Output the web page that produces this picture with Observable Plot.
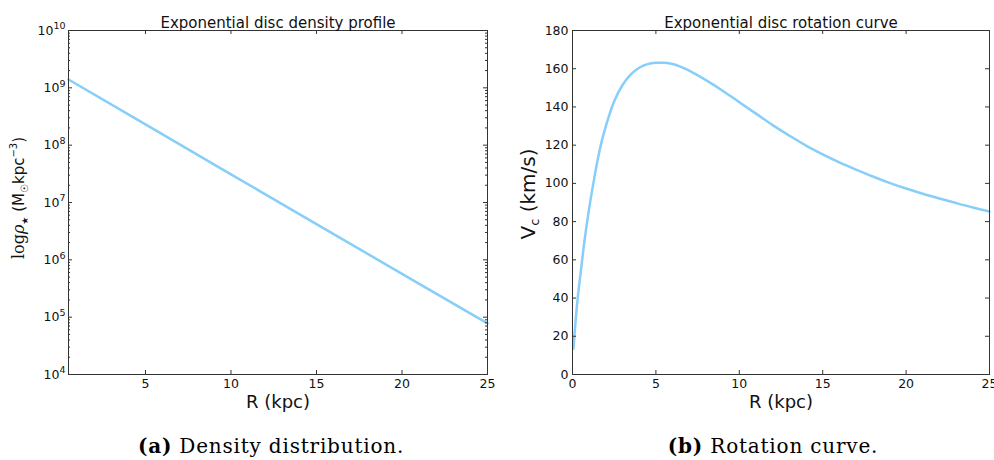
<!DOCTYPE html>
<html>
<head>
<meta charset="utf-8">
<script src="https://cdn.jsdelivr.net/npm/d3@7"></script>
<script src="https://cdn.jsdelivr.net/npm/@observablehq/plot@0.6"></script>
<style>
  body { margin: 0; background: #fff; }
  #wrap { position: relative; width: 994px; height: 460px; overflow: hidden; background: #fff; }
  .panel { position: absolute; top: 0; }
  .cap { position: absolute; top: 434px; font-family: "DejaVu Serif"; font-size: 20px; letter-spacing: 0.8px; white-space: nowrap; transform: translateX(-50%); color: #000; }
  .cap b { font-weight: bold; }
</style>
</head>
<body>
<div id="wrap">
  <div id="left" class="panel" style="left:0px"></div>
  <div id="right" class="panel" style="left:497px"></div>
  <div class="cap" style="left:271px"><b>(a)</b> Density distribution.</div>
  <div class="cap" style="left:773px"><b>(b)</b> Rotation curve.</div>
</div>
<script>
// ---------- data ----------
const densityR   = [0.5, 5, 10, 15, 20, 25];
const densityRho = [1.4e9, 2.3e8, 3.1e7, 4.2e6, 5.7e5, 7.8e4];

const rotR = [0.06, 0.15, 0.3, 0.5, 0.75, 1.0, 1.25, 1.5, 1.75, 2.0, 2.5, 3.0, 3.5, 4.0, 4.5, 5.0, 5.5, 6.0, 6.5, 7.0, 8.0, 9.0, 10.0, 11.0, 12.0, 13.0, 14.0, 15.0, 16.0, 17.0, 18.0, 19.0, 20.0, 21.0, 22.0, 23.0, 24.0, 25.0];
const rotV = [13.5, 24, 39, 54, 72, 87, 100, 112, 122, 130, 143, 151.5, 157, 160.5, 162.4, 163.1, 163.1, 162.5, 161, 159, 154, 148.5, 142.5, 136.5, 130.5, 125, 119.8, 115.2, 111, 107.2, 103.6, 100.3, 97.3, 94.6, 92.1, 89.7, 87.4, 85.3];

const densityXTicks = [5, 10, 15, 20, 25];
const densityYTicks = [1e4, 1e5, 1e6, 1e7, 1e8, 1e9, 1e10];
const rotXTicks = [0, 5, 10, 15, 20, 25];
const rotYTicks = [0, 20, 40, 60, 80, 100, 120, 140, 160, 180];

const densityTitle = "Exponential disc density profile";
const rotTitle = "Exponential disc rotation curve";
const xLabel = "R (kpc)";

// ---------- helpers ----------
const INK = "#333";
const LINE = "#87cefa";
const W = 497, H = 420;

function minorLogTicks(lo, hi) {
  const out = [];
  for (let e = lo; e < hi; e++) for (let m = 2; m <= 9; m++) out.push(m * Math.pow(10, e));
  return out;
}

function innerTicks(xt, yt, yMinor, iw, ih) {
  const M = 4, m = 2;
  const marks = [
    Plot.tickX(xt, {x: d => d, insetTop: ih - M, stroke: INK}),
    Plot.tickX(xt, {x: d => d, insetBottom: ih - M, stroke: INK}),
    Plot.tickY(yt, {y: d => d, insetRight: iw - M, stroke: INK}),
    Plot.tickY(yt, {y: d => d, insetLeft: iw - M, stroke: INK})
  ];
  if (yMinor) {
    marks.push(Plot.tickY(yMinor, {y: d => d, insetRight: iw - m, stroke: INK}));
    marks.push(Plot.tickY(yMinor, {y: d => d, insetLeft: iw - m, stroke: INK}));
  }
  return marks;
}

const baseStyle = {fontFamily: "DejaVu Sans", fontSize: "12.5px", color: "#111", background: "transparent", overflow: "visible"};

// ---------- left: density ----------
{
  const ml = 68, mr = 10, mt = 30, mb = 46;
  const iw = W - ml - mr, ih = H - mt - mb;
  const data = densityR.map((r, i) => ({r, rho: densityRho[i]}));
  const svg = Plot.plot({
    width: W, height: H,
    marginLeft: ml, marginRight: mr, marginTop: mt, marginBottom: mb,
    style: baseStyle,
    x: {domain: [0.5, 25]},
    y: {type: "log", domain: [1e4, 1e10]},
    marks: [
      Plot.line(data, {x: "r", y: "rho", stroke: LINE, strokeWidth: 2.5}),
      ...innerTicks(densityXTicks, densityYTicks, minorLogTicks(4, 10), iw, ih),
      Plot.frame({stroke: INK}),
      Plot.axisX(densityXTicks, {tickSize: 0, tickPadding: 5, label: null, fontSize: 12.5}),
      Plot.axisY(densityYTicks, {tickSize: 0, tickPadding: 3, label: null, fontSize: 12.5, tickFormat: d => "10^" + Math.round(Math.log10(d))}),
      Plot.text([densityTitle], {frameAnchor: "top", dy: -13, fontSize: 15, fill: "#111"}),
      Plot.text([xLabel], {frameAnchor: "bottom", dy: 33, fontSize: 18, fill: "#111"})
    ]
  });
  const s = d3.select(svg);
  s.selectAll('g[aria-label="y-axis tick label"] text').each(function() {
    const t = d3.select(this);
    const parts = t.text().split("^");
    t.text(parts[0]);
    t.append("tspan").attr("dy", "-0.55em").attr("font-size", "9.5px").text(parts[1]);
  });
  // y label with math-like parts
  const yl = s.append("text")
    .attr("transform", `translate(24,${mt + ih / 2 - 4}) rotate(-90)`)
    .attr("text-anchor", "middle")
    .attr("font-family", "DejaVu Sans").attr("font-size", "15px").attr("fill", "#111");
  yl.append("tspan").attr("font-family", "DejaVu Serif").attr("font-size", "16px").text("log");
  yl.append("tspan").attr("font-family", "DejaVu Serif").attr("font-style", "italic").attr("font-size", "16px").text("ρ");
  yl.append("tspan").attr("font-size", "9px").attr("dy", "4").text("★");
  yl.append("tspan").attr("dy", "-4").text(" (M");
  yl.append("tspan").attr("font-size", "10px").attr("dy", "4").text("☉");
  yl.append("tspan").attr("dy", "-4").text("kpc");
  yl.append("tspan").attr("font-size", "10px").attr("dy", "-7").text("−3");
  yl.append("tspan").attr("dy", "7").text(")");
  document.getElementById("left").appendChild(svg);
}

// ---------- right: rotation curve ----------
{
  const ml = 75, mr = 5, mt = 30, mb = 46;
  const iw = W - ml - mr, ih = H - mt - mb;
  const data = rotR.map((r, i) => ({r, v: rotV[i]}));
  const svg = Plot.plot({
    width: W, height: H,
    marginLeft: ml, marginRight: mr, marginTop: mt, marginBottom: mb,
    style: baseStyle,
    x: {domain: [0, 25]},
    y: {domain: [0, 180]},
    marks: [
      Plot.line(data, {x: "r", y: "v", stroke: LINE, strokeWidth: 2.5, curve: "catmull-rom"}),
      ...innerTicks(rotXTicks, rotYTicks, null, iw, ih),
      Plot.frame({stroke: INK}),
      Plot.axisX(rotXTicks, {tickSize: 0, tickPadding: 5, label: null, fontSize: 12.5}),
      Plot.axisY(rotYTicks, {tickSize: 0, tickPadding: 4, label: null, fontSize: 12.5}),
      Plot.text([rotTitle], {frameAnchor: "top", dy: -13, fontSize: 15, fill: "#111"}),
      Plot.text([xLabel], {frameAnchor: "bottom", dy: 33, fontSize: 18, fill: "#111"})
    ]
  });
  const s = d3.select(svg);
  const yl = s.append("text")
    .attr("transform", `translate(38,${mt + ih / 2 - 8}) rotate(-90)`)
    .attr("text-anchor", "middle")
    .attr("font-family", "DejaVu Sans").attr("font-size", "20px").attr("fill", "#111");
  yl.append("tspan").text("V");
  yl.append("tspan").attr("font-size", "13px").attr("dy", "4").text("c");
  yl.append("tspan").attr("dy", "-4").text(" (km/s)");
  document.getElementById("right").appendChild(svg);
}
</script>
</body>
</html>
